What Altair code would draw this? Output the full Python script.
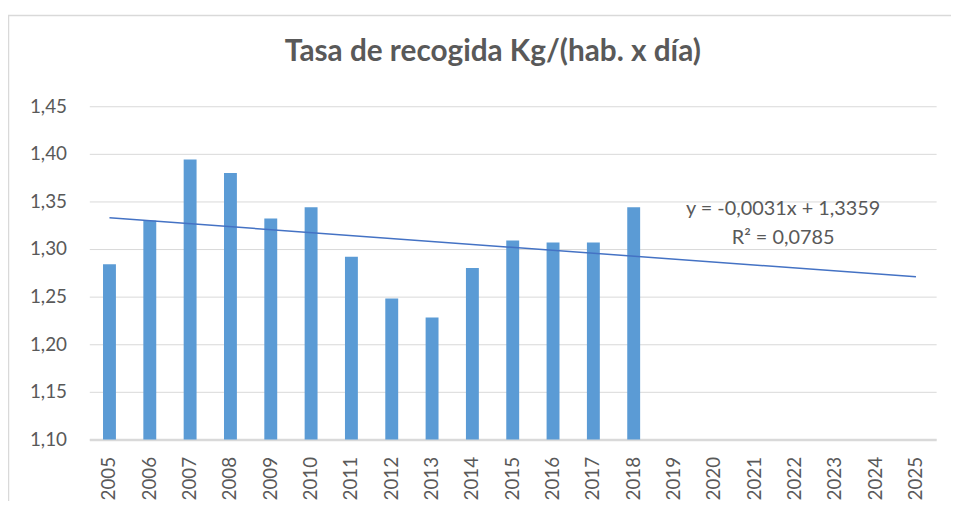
import altair as alt
import pandas as pd

# ---- data ----
years_all = ["2005", "2006", "2007", "2008", "2009", "2010", "2011", "2012", "2013",
             "2014", "2015", "2016", "2017", "2018", "2019", "2020", "2021", "2022",
             "2023", "2024", "2025"]
bar_years = ["2005", "2006", "2007", "2008", "2009", "2010", "2011", "2012", "2013",
             "2014", "2015", "2016", "2017", "2018"]
bar_values = [1.284, 1.330, 1.394, 1.380, 1.332, 1.344, 1.292, 1.248, 1.228,
              1.280, 1.309, 1.307, 1.307, 1.344]
trend_years = ["2005", "2025"]
trend_values = [1.3328, 1.2708]
y_ticks = [1.10, 1.15, 1.20, 1.25, 1.30, 1.35, 1.40, 1.45]
title_text = "Tasa de recogida Kg/(hab. x día)"
eq_lines = ["y = -0,0031x + 1,3359", "R² = 0,0785"]
eq_values = [1.3417, 1.3115]

FONT = "Lato"
GREY = "#595959"
GRID = "#d9d9d9"

bars_df = pd.DataFrame({"year": bar_years, "value": bar_values})
trend_df = pd.DataFrame({"year": trend_years, "value": trend_values})
eq_df = pd.DataFrame({"t": eq_lines, "v": eq_values})

x_scale = alt.Scale(domain=years_all, paddingInner=0.68, paddingOuter=0.34)
y_scale = alt.Scale(domain=[1.10, 1.45], zero=False, nice=False)

x_enc = alt.X("year:N", scale=x_scale, sort=years_all,
              axis=alt.Axis(title=None, labelAngle=-90, labelAlign="right",
                            labelBaseline="middle", labelPadding=17, ticks=False,
                            domainColor=GRID, domainWidth=2.5, labelFont=FONT,
                            labelFontSize=19, labelColor=GREY, grid=False))
y_axis = alt.Axis(title=None, values=y_ticks, grid=True, gridColor=GRID, gridWidth=1,
                  domain=False, ticks=False, labelPadding=23, labelFont=FONT,
                  labelFontSize=19, labelColor=GREY,
                  labelExpr="replace(format(datum.value, '.2f'), '.', ',')")

bars = alt.Chart(bars_df).mark_bar(color="#5B9BD5").encode(
    x=x_enc,
    y=alt.Y("value:Q", scale=y_scale, axis=y_axis),
    y2=alt.datum(1.10),
)

trend = alt.Chart(trend_df).mark_line(color="#4472C4", strokeWidth=1.5).encode(
    x=alt.X("year:N", scale=x_scale, sort=years_all),
    y=alt.Y("value:Q", scale=y_scale),
)

eq = alt.Chart(eq_df).mark_text(font=FONT, fontSize=20, color=GREY, align="center",
                                baseline="middle", dx=-12).encode(
    x=alt.datum("2022"),
    y=alt.Y("v:Q", scale=y_scale),
    text="t:N",
)

border_left = alt.Chart(pd.DataFrame({"a": [0]})).mark_rule(color=GRID, strokeWidth=1.5).encode(
    x=alt.value(-81.5), y=alt.value(-92), y2=alt.value(420))
border_top = alt.Chart(pd.DataFrame({"a": [0]})).mark_rule(color=GRID, strokeWidth=1.5).encode(
    x=alt.value(-82), x2=alt.value(880), y=alt.value(-91.5))

chart = alt.layer(bars, trend, eq, border_left, border_top).properties(
    width=854,
    height=336,
    title=alt.TitleParams(title_text, font=FONT, fontSize=30, fontWeight="bold",
                          color=GREY, anchor="middle", dx=-20, offset=-77,
                          baseline="alphabetic"),
    padding={"left": 82, "top": 97, "right": 15, "bottom": 60},
    autosize=alt.AutoSizeParams(type="none"),
).configure_view(stroke=None)

chart.save("out.html", embed_options={"renderer": "svg", "actions": False})
